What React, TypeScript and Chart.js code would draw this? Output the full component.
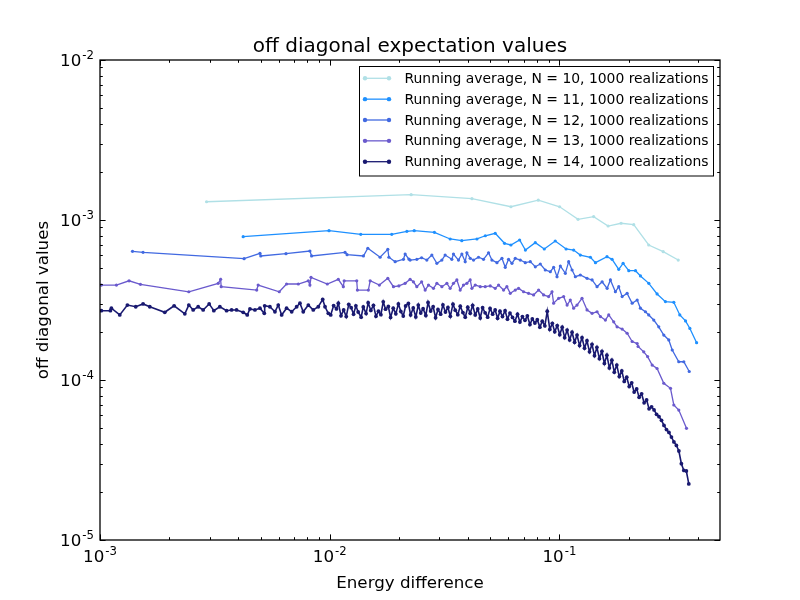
import React, { useEffect, useRef } from "react";
import { Chart, registerables } from "chart.js";

Chart.register(...registerables);

const chartTitle = "off diagonal expectation values";
const xAxisTitle = "Energy difference";
const yAxisTitle = "off diagonal values";

const seriesLabels = [
  "Running average, N = 10, 1000 realizations",
  "Running average, N = 11, 1000 realizations",
  "Running average, N = 12, 1000 realizations",
  "Running average, N = 13, 1000 realizations",
  "Running average, N = 14, 1000 realizations",
];
const seriesColors = ["#b0e0e6", "#1e90ff", "#4169e1", "#6a5acd", "#191970"];

const xMin = 1e-3;
const xMax = 0.5;
const yMin = 1e-5;
const yMax = 1e-2;
const xMajorTicks = [1e-3, 1e-2, 1e-1];
const xTickExponents = ["-3", "-2", "-1"];
const yMajorTicks = [1e-5, 1e-4, 1e-3, 1e-2];
const yTickExponents = ["-5", "-4", "-3", "-2"];

const n10: [number, number][] = [
  [2.91e-3, 1.30e-3], [0.02262, 1.44e-3], [0.0416, 1.36e-3], [0.0615, 1.21e-3],
  [0.0809, 1.33e-3], [0.1002, 1.21e-3], [0.1205, 1.01e-3], [0.1409, 1.05e-3],
  [0.1629, 9.17e-4], [0.1855, 9.54e-4], [0.2106, 9.35e-4], [0.2447, 6.98e-4],
  [0.2829, 6.34e-4], [0.3289, 5.62e-4],
];

const n11: [number, number][] = [
  [0.0042, 7.87e-4], [0.00993, 8.57e-4], [0.01365, 8.14e-4], [0.01862, 8.14e-4],
  [0.02167, 8.5e-4], [0.02333, 8.57e-4], [0.02856, 8.38e-4], [0.03344, 7.61e-4],
  [0.03758, 7.43e-4], [0.04375, 7.61e-4], [0.04757, 7.97e-4], [0.05254, 8.26e-4],
  [0.05768, 7.15e-4], [0.0615, 6.98e-4], [0.0671, 7.5e-4], [0.0711, 6.49e-4],
  [0.0785, 7.22e-4], [0.0859, 6.59e-4], [0.0959, 7.39e-4], [0.1069, 6.59e-4],
  [0.1153, 6.49e-4], [0.1233, 6.04e-4], [0.1364, 5.85e-4], [0.1435, 5.41e-4],
  [0.1611, 5.9e-4], [0.1695, 5.68e-4], [0.1812, 4.92e-4], [0.1893, 5.36e-4],
  [0.2004, 4.82e-4], [0.2144, 4.82e-4], [0.2253, 4.47e-4], [0.2449, 4.02e-4],
  [0.2661, 3.45e-4], [0.2893, 3.09e-4], [0.3147, 3.06e-4], [0.3342, 2.55e-4],
  [0.3539, 2.34e-4], [0.3697, 2.1e-4], [0.3955, 1.71e-4],
];

const n12: [number, number][] = [
  [1.385e-3, 6.37e-4], [1.54e-3, 6.28e-4], [4.24e-3, 5.73e-4], [4.97e-3, 6.19e-4],
  [5.01e-3, 5.96e-4], [6.45e-3, 6.16e-4], [8.2e-3, 6.4e-4], [8.34e-3, 5.96e-4],
  [0.01166, 6.28e-4], [0.0119, 6.07e-4], [0.01402, 5.96e-4], [0.01465, 6.66e-4],
  [0.01657, 5.85e-4], [0.0179, 6.56e-4], [0.0181, 5.85e-4], [0.01927, 5.49e-4],
  [0.02094, 5.68e-4], [0.0213, 6.13e-4], [0.0221, 5.7e-4], [0.02239, 5.62e-4],
  [0.02394, 5.68e-4], [0.02512, 5.81e-4], [0.02647, 5.62e-4], [0.02784, 6.04e-4],
  [0.02927, 5.36e-4], [0.03078, 5.62e-4], [0.0318, 6.04e-4], [0.03401, 5.68e-4],
  [0.03457, 6.13e-4], [0.03635, 5.62e-4], [0.03761, 6.13e-4], [0.03888, 5.49e-4],
  [0.03955, 6.24e-4], [0.04088, 5.76e-4], [0.04227, 5.62e-4], [0.04444, 5.85e-4],
  [0.04673, 5.68e-4], [0.04913, 6.24e-4], [0.05083, 5.62e-4], [0.05346, 5.41e-4],
  [0.05621, 5.76e-4], [0.0581, 5.06e-4], [0.06005, 5.68e-4], [0.06214, 5.36e-4],
  [0.06424, 5.76e-4], [0.06754, 5.62e-4], [0.07101, 5.41e-4], [0.07467, 5.49e-4],
  [0.07852, 5.1e-4], [0.08255, 5.31e-4], [0.08678, 4.87e-4], [0.09126, 4.75e-4],
  [0.09434, 5.06e-4], [0.09761, 4.42e-4], [0.1009, 5.16e-4], [0.1061, 4.64e-4],
  [0.1097, 5.49e-4], [0.1135, 4.87e-4], [0.1173, 4.42e-4], [0.1233, 4.53e-4],
  [0.1319, 4.32e-4], [0.1387, 4.22e-4], [0.1458, 3.83e-4], [0.1534, 4.11e-4],
  [0.1613, 3.74e-4], [0.1667, 4.22e-4], [0.1752, 3.56e-4], [0.1812, 3.83e-4],
  [0.1875, 3.32e-4], [0.1971, 3.48e-4], [0.2073, 3.02e-4], [0.218, 3.16e-4],
  [0.2252, 2.81e-4], [0.2368, 2.67e-4], [0.2448, 2.55e-4], [0.2574, 2.37e-4],
  [0.2706, 2.15e-4], [0.2846, 1.91e-4], [0.2992, 1.78e-4], [0.3097, 1.54e-4],
  [0.3308, 1.3e-4], [0.3478, 1.3e-4], [0.3673, 1.13e-4],
];

const n13: [number, number][] = [
  [1.014e-3, 3.92e-4], [1.179e-3, 3.92e-4], [1.338e-3, 4.17e-4], [1.5e-3, 3.96e-4],
  [2.436e-3, 3.56e-4], [3.27e-3, 4.02e-4], [3.35e-3, 4.26e-4], [3.37e-3, 3.83e-4],
  [4.81e-3, 3.65e-4], [4.88e-3, 3.92e-4], [6.03e-3, 3.56e-4], [6.49e-3, 3.98e-4],
  [7.3e-3, 3.98e-4], [8.07e-3, 4.17e-4], [8.2e-3, 3.92e-4], [8.29e-3, 4.38e-4],
  [9.76e-3, 3.98e-4], [0.0109, 4.26e-4], [0.01146, 3.83e-4], [0.01156, 4.17e-4],
  [0.01311, 4.17e-4], [0.0132, 3.65e-4], [0.01473, 3.65e-4], [0.015, 4.17e-4],
  [0.01645, 3.92e-4], [0.0179, 4.32e-4], [0.01894, 3.83e-4], [0.02, 3.87e-4],
  [0.02129, 4.02e-4], [0.02239, 4.26e-4], [0.02314, 4.11e-4], [0.02394, 3.83e-4],
  [0.02512, 4.11e-4], [0.02603, 3.65e-4], [0.02691, 3.92e-4], [0.02829, 3.74e-4],
  [0.02927, 4.02e-4], [0.03078, 3.83e-4], [0.03236, 4.02e-4], [0.03344, 3.74e-4],
  [0.03457, 4.02e-4], [0.03577, 4.22e-4], [0.03698, 3.65e-4], [0.03822, 3.92e-4],
  [0.03955, 4.02e-4], [0.04088, 4.22e-4], [0.04159, 3.74e-4], [0.043, 3.92e-4],
  [0.04521, 3.83e-4], [0.04754, 3.83e-4], [0.04998, 3.87e-4], [0.05254, 3.74e-4],
  [0.05433, 3.92e-4], [0.05712, 3.65e-4], [0.05906, 3.83e-4], [0.06109, 3.48e-4],
  [0.06424, 3.65e-4], [0.06639, 3.74e-4], [0.06981, 3.56e-4], [0.0734, 3.48e-4],
  [0.07718, 3.4e-4], [0.08115, 3.65e-4], [0.08533, 3.4e-4], [0.08972, 3.32e-4],
  [0.09283, 3.56e-4], [0.09434, 3.02e-4], [0.0992, 3.24e-4], [0.1043, 3.32e-4],
  [0.108, 2.94e-4], [0.1115, 3.16e-4], [0.1153, 2.81e-4], [0.1193, 2.94e-4],
  [0.1254, 3.24e-4], [0.1319, 2.74e-4], [0.1387, 2.61e-4], [0.1458, 2.67e-4],
  [0.1508, 2.49e-4], [0.1585, 2.37e-4], [0.1639, 2.55e-4], [0.1723, 2.31e-4],
  [0.1782, 2.15e-4], [0.1875, 2.08e-4], [0.1971, 1.96e-4], [0.2073, 1.74e-4],
  [0.218, 1.69e-4], [0.22, 1.62e-4], [0.2328, 1.5e-4], [0.242, 1.4e-4],
  [0.2533, 1.24e-4], [0.2661, 1.18e-4], [0.2846, 9.54e-5], [0.3044, 8.87e-5],
  [0.3147, 6.98e-5], [0.3308, 6.49e-5], [0.3574, 4.99e-5],
];

const n14: [number, number][] = [
  [1.014e-3, 2.71e-4], [1.11e-3, 2.71e-4], [1.121e-3, 2.81e-4], [1.219e-3, 2.55e-4],
  [1.316e-3, 2.94e-4], [1.431e-3, 2.87e-4], [1.54e-3, 2.99e-4], [1.647e-3, 2.87e-4],
  [1.914e-3, 2.65e-4], [2.102e-3, 2.91e-4], [2.34e-3, 2.59e-4], [2.436e-3, 2.94e-4],
  [2.544e-3, 2.74e-4], [2.675e-3, 2.87e-4], [2.812e-3, 2.74e-4], [2.987e-3, 2.99e-4],
  [3.13e-3, 2.71e-4], [3.325e-3, 2.87e-4], [3.556e-3, 2.71e-4], [3.74e-3, 2.74e-4],
  [3.93e-3, 2.74e-4], [4.2e-3, 2.65e-4], [4.375e-3, 2.55e-4], [4.495e-3, 2.78e-4],
  [4.726e-3, 2.74e-4], [4.969e-3, 2.81e-4], [5.19e-3, 2.61e-4], [5.21e-3, 2.91e-4],
  [5.49e-3, 2.87e-4], [5.775e-3, 2.67e-4], [5.97e-3, 2.94e-4], [6.177e-3, 2.55e-4],
  [6.49e-3, 2.81e-4], [6.83e-3, 2.67e-4], [7.18e-3, 2.87e-4], [7.42e-3, 3.02e-4],
  [7.67e-3, 2.67e-4], [8.07e-3, 2.94e-4], [8.48e-3, 2.74e-4], [8.92e-3, 2.87e-4],
  [9.32e-3, 3.19e-4], [9.54e-3, 2.87e-4], [9.86e-3, 2.61e-4],
  [0.0101, 2.55e-4], [0.0104, 2.92e-4], [0.0107, 2.78e-4], [0.0109, 3.02e-4],
  [0.0112, 2.52e-4], [0.0115, 2.74e-4], [0.0118, 2.49e-4], [0.0121, 2.97e-4],
  [0.0124, 2.83e-4], [0.0127, 2.58e-4], [0.013, 2.91e-4], [0.0133, 2.66e-4],
  [0.0137, 2.47e-4], [0.014, 2.86e-4], [0.0144, 2.6e-4], [0.0147, 3.04e-4],
  [0.0151, 2.72e-4], [0.0155, 2.93e-4], [0.0159, 2.5e-4], [0.0163, 2.69e-4],
  [0.0167, 2.56e-4], [0.0171, 3.08e-4], [0.0175, 2.77e-4], [0.018, 2.88e-4],
  [0.0184, 2.46e-4], [0.0189, 2.81e-4], [0.0194, 2.59e-4], [0.0199, 2.99e-4],
  [0.0204, 2.68e-4], [0.0209, 2.51e-4], [0.0214, 2.9e-4], [0.022, 3.01e-4],
  [0.0225, 2.55e-4], [0.0231, 2.82e-4], [0.0237, 2.48e-4], [0.0243, 2.94e-4],
  [0.0249, 2.62e-4], [0.0255, 2.79e-4], [0.0262, 2.53e-4], [0.0268, 3.05e-4],
  [0.0275, 2.7e-4], [0.0282, 2.87e-4], [0.0289, 2.45e-4], [0.0296, 2.76e-4],
  [0.0304, 2.58e-4], [0.0311, 2.95e-4], [0.0319, 2.66e-4], [0.0327, 2.84e-4],
  [0.0335, 2.5e-4], [0.0344, 2.98e-4], [0.0352, 2.73e-4], [0.0361, 2.56e-4],
  [0.037, 2.89e-4], [0.038, 2.64e-4], [0.0389, 2.47e-4], [0.0399, 2.85e-4],
  [0.0409, 2.61e-4], [0.0419, 2.93e-4], [0.043, 2.55e-4], [0.0441, 2.78e-4],
  [0.0452, 2.44e-4], [0.0463, 2.83e-4], [0.0475, 2.63e-4], [0.0487, 2.47e-4],
  [0.0499, 2.8e-4], [0.0512, 2.58e-4], [0.0525, 2.74e-4], [0.0538, 2.43e-4],
  [0.0551, 2.69e-4], [0.0565, 2.49e-4], [0.058, 2.71e-4], [0.0594, 2.4e-4],
  [0.0609, 2.62e-4], [0.0625, 2.46e-4], [0.064, 2.33e-4], [0.0657, 2.58e-4],
  [0.0673, 2.3e-4], [0.069, 2.49e-4], [0.0708, 2.36e-4], [0.0725, 2.52e-4],
  [0.0744, 2.22e-4], [0.0762, 2.41e-4], [0.0782, 2.27e-4], [0.0801, 2.38e-4],
  [0.0822, 2.14e-4], [0.0842, 2.33e-4], [0.0864, 2.18e-4], [0.0885, 2.69e-4],
  [0.0908, 2.07e-4], [0.0931, 2.26e-4], [0.0954, 2.0e-4], [0.0978, 2.19e-4],
  [0.1003, 1.92e-4], [0.1028, 2.14e-4], [0.1054, 1.84e-4], [0.108, 2.05e-4],
  [0.1108, 1.78e-4], [0.1135, 1.99e-4], [0.1164, 1.72e-4], [0.1193, 1.91e-4],
  [0.1224, 1.64e-4], [0.1254, 1.84e-4], [0.1286, 1.58e-4], [0.1318, 1.76e-4],
  [0.1352, 1.5e-4], [0.1386, 1.67e-4], [0.1421, 1.42e-4], [0.1456, 1.6e-4],
  [0.1493, 1.36e-4], [0.1531, 1.51e-4], [0.1569, 1.27e-4], [0.1609, 1.43e-4],
  [0.1649, 1.19e-4], [0.1691, 1.33e-4], [0.1733, 1.12e-4], [0.1777, 1.24e-4],
  [0.1822, 1.05e-4], [0.1868, 1.14e-4], [0.1915, 9.8e-5], [0.1963, 1.04e-4],
  [0.2013, 9.1e-5], [0.2063, 9.6e-5], [0.2115, 8.4e-5], [0.2169, 8.8e-5],
  [0.2223, 7.8e-5], [0.2279, 8.2e-5], [0.2337, 7.2e-5], [0.2396, 7.5e-5],
  [0.2456, 6.6e-5], [0.2518, 6.8e-5], [0.2582, 6.5e-5], [0.2647, 6.1e-5],
  [0.2713, 5.9e-5], [0.2782, 5.6e-5], [0.2852, 5.2e-5], [0.2924, 4.9e-5],
  [0.2997, 4.7e-5], [0.3073, 4.4e-5], [0.315, 4.1e-5], [0.323, 3.9e-5],
  [0.3311, 3.6e-5], [0.3395, 3.0e-5], [0.348, 2.72e-5], [0.3568, 2.7e-5],
  [0.3657, 2.24e-5],
];

const allSeries = [n10, n11, n12, n13, n14];

const FONT = "'DejaVu Sans', 'Liberation Sans', sans-serif";

function drawPower(
  ctx: CanvasRenderingContext2D,
  exp: string,
  x: number,
  baseY: number,
  align: "center" | "right"
) {
  ctx.font = `16.7px ${FONT}`;
  const w1 = ctx.measureText("10").width;
  ctx.font = `11.7px ${FONT}`;
  const w2 = ctx.measureText(exp).width;
  const total = w1 + w2 + 1;
  const start = align === "center" ? x - total / 2 : x - total;
  ctx.textAlign = "left";
  ctx.textBaseline = "alphabetic";
  ctx.font = `16.7px ${FONT}`;
  ctx.fillText("10", start, baseY);
  ctx.font = `11.7px ${FONT}`;
  ctx.fillText(exp, start + w1 + 1, baseY - 7);
}

const decorPlugin = {
  id: "mplDecor",
  afterDraw(chart: any) {
    const { ctx, chartArea: ca, scales } = chart;
    const xs = scales.x;
    const ys = scales.y;
    ctx.save();
    ctx.strokeStyle = "#000";
    ctx.fillStyle = "#000";

    ctx.lineWidth = 1;
    const vTick = (px: number, len: number) => {
      ctx.beginPath();
      ctx.moveTo(px, ca.bottom);
      ctx.lineTo(px, ca.bottom - len);
      ctx.moveTo(px, ca.top);
      ctx.lineTo(px, ca.top + len);
      ctx.stroke();
    };
    const hTick = (py: number, len: number) => {
      ctx.beginPath();
      ctx.moveTo(ca.left, py);
      ctx.lineTo(ca.left + len, py);
      ctx.moveTo(ca.right, py);
      ctx.lineTo(ca.right - len, py);
      ctx.stroke();
    };
    xMajorTicks.forEach((d) => {
      vTick(Math.round(xs.getPixelForValue(d)) + 0.5, 5.6);
      for (let m = 2; m <= 9; m++) {
        const v = m * d;
        if (v < xMax) vTick(Math.round(xs.getPixelForValue(v)) + 0.5, 2.8);
      }
    });
    yMajorTicks.forEach((d, i) => {
      hTick(Math.round(ys.getPixelForValue(d)) + 0.5, 5.6);
      if (i < yMajorTicks.length - 1) {
        for (let m = 2; m <= 9; m++) {
          hTick(Math.round(ys.getPixelForValue(m * d)) + 0.5, 2.8);
        }
      }
    });

    ctx.lineWidth = 1.3;
    ctx.strokeRect(ca.left, ca.top, ca.right - ca.left, ca.bottom - ca.top);

    xMajorTicks.forEach((d, i) => {
      drawPower(ctx, xTickExponents[i], xs.getPixelForValue(d), ca.bottom + 22, "center");
    });
    yMajorTicks.forEach((d, i) => {
      drawPower(ctx, yTickExponents[i], ca.left - 6, ys.getPixelForValue(d) + 6, "right");
    });

    ctx.font = `20px ${FONT}`;
    ctx.textAlign = "center";
    ctx.textBaseline = "alphabetic";
    ctx.fillText(chartTitle, (ca.left + ca.right) / 2, ca.top - 8);

    ctx.font = `16.7px ${FONT}`;
    ctx.fillText(xAxisTitle, (ca.left + ca.right) / 2, ca.bottom + 48);
    ctx.save();
    ctx.translate(ca.left - 52, (ca.top + ca.bottom) / 2);
    ctx.rotate(-Math.PI / 2);
    ctx.fillText(yAxisTitle, 0, 0);
    ctx.restore();

    const lx = ca.left + 259.5;
    const ly = ca.top + 6.5;
    const lw = 354;
    const lh = 109.5;
    ctx.fillStyle = "#fff";
    ctx.fillRect(lx, ly, lw, lh);
    ctx.strokeStyle = "#000";
    ctx.lineWidth = 1;
    ctx.strokeRect(lx, ly, lw, lh);
    ctx.font = `13.9px ${FONT}`;
    ctx.textAlign = "left";
    ctx.textBaseline = "middle";
    seriesLabels.forEach((lab, i) => {
      const cy = ly + 11.8 + i * 20.85;
      const col = seriesColors[i];
      ctx.strokeStyle = col;
      ctx.lineWidth = 1.3;
      ctx.beginPath();
      ctx.moveTo(lx + 5.5, cy);
      ctx.lineTo(lx + 29.5, cy);
      ctx.stroke();
      ctx.fillStyle = col;
      [lx + 5.5, lx + 29.5].forEach((mx) => {
        ctx.beginPath();
        ctx.arc(mx, cy, 2.2, 0, Math.PI * 2);
        ctx.fill();
      });
      ctx.fillStyle = "#000";
      ctx.fillText(lab, lx + 45, cy + 1);
    });
    ctx.restore();
  },
};

export default function App() {
  const ref = useRef<HTMLCanvasElement | null>(null);
  useEffect(() => {
    if (!ref.current) return;
    const chart = new Chart(ref.current, {
      type: "line",
      data: {
        datasets: allSeries.map((s, i) => ({
          label: seriesLabels[i],
          data: s.map(([x, y]) => ({ x, y })),
          borderColor: seriesColors[i],
          backgroundColor: seriesColors[i],
          pointBackgroundColor: seriesColors[i],
          pointBorderWidth: 0,
          pointRadius: i === 4 ? 1.9 : 1.6,
          pointHoverRadius: 0,
          borderWidth: i === 4 ? 1.6 : 1.3,
          tension: 0,
          fill: false,
          order: allSeries.length - i,
        })),
      },
      options: {
        animation: false,
        responsive: false,
        devicePixelRatio: 1,
        events: [],
        layout: { padding: { left: 100, right: 80, top: 60, bottom: 60 } },
        plugins: {
          legend: { display: false },
          title: { display: false },
          tooltip: { enabled: false },
        },
        scales: {
          x: { type: "logarithmic", min: xMin, max: xMax, display: false },
          y: { type: "logarithmic", min: yMin, max: yMax, display: false },
        },
      },
      plugins: [decorPlugin],
    });
    return () => chart.destroy();
  }, []);
  return (
    <div style={{ position: "absolute", left: 0, top: 0, width: 800, height: 600, background: "#fff" }}>
      <canvas ref={ref} width={800} height={600} style={{ display: "block", width: 800, height: 600 }} />
    </div>
  );
}
